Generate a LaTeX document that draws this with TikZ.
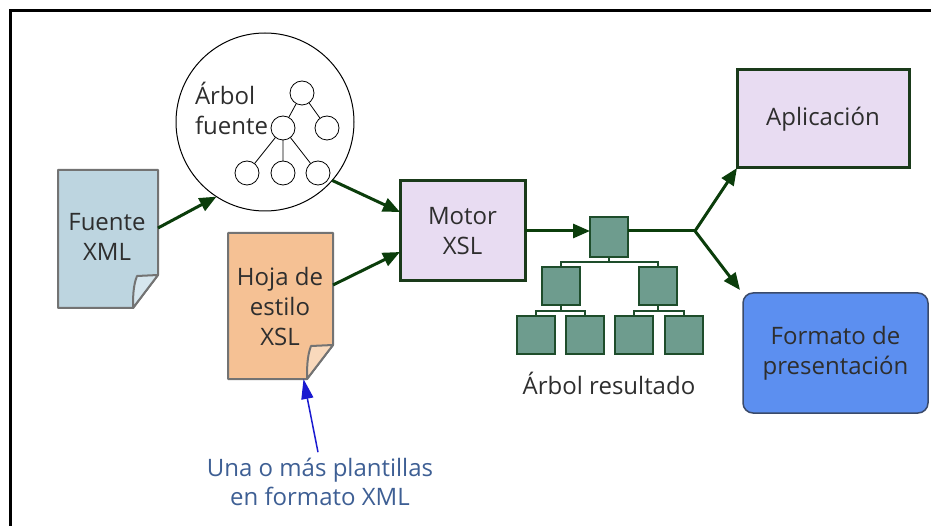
\documentclass[tikz,border=0pt]{standalone}
\usepackage{fontspec}
\setmainfont{Open Sans}
\usetikzlibrary{arrows.meta}
\definecolor{arrowgreen}{HTML}{0B3D0B}
\definecolor{boxgreen}{HTML}{1A3A1A}
\definecolor{lilac}{HTML}{E8DCF2}
\definecolor{leafgreen}{HTML}{6E9C8E}
\definecolor{leafedge}{HTML}{1E4D2B}
\definecolor{xmlblue}{HTML}{BDD5E0}
\definecolor{xmlflap}{HTML}{D6E6EE}
\definecolor{xslpeach}{HTML}{F5C194}
\definecolor{xslflap}{HTML}{F9D9BC}
\definecolor{docedge}{HTML}{737373}
\definecolor{fmtblue}{HTML}{5C8FF0}
\definecolor{fmtedge}{HTML}{3A4A6A}
\definecolor{notetext}{HTML}{3E5F94}
\definecolor{notearrow}{HTML}{1A1AD0}
\definecolor{ink}{HTML}{2E2E2E}
\begin{document}
\begin{tikzpicture}[x=1pt,y=-1pt,inner sep=0pt,outer sep=0pt,
font=\fontsize{24}{30}\selectfont,text=ink,
flow/.style={-{Triangle[length=17pt,width=14pt]},line width=3pt,draw=arrowgreen},
sysblock/.style={draw=boxgreen,fill=lilac,line width=3pt,rectangle,align=center},
docblock/.style={rectangle,align=center},
docline/.style={draw=docedge,line width=2pt,line join=round},
leaf/.style={draw=leafedge,fill=leafgreen,line width=1.5pt,minimum width=38pt,minimum height=38pt},
twig/.style={draw=leafedge,line width=2.5pt},
knot/.style={draw,circle,minimum size=24pt,line width=0.8pt}]
\useasboundingbox (0,0) rectangle (931,526);
\draw[line width=3pt] (10,526) -- (10,11) -- (931,11);
% source tree
\node[draw,circle,minimum size=178pt,line width=1pt] (src) at (265,122) {};
\node[anchor=west,align=left] (srclbl) at (195,108) {Árbol\\fuente};
\node[knot] (t1) at (302,93) {};
\node[knot] (t2) at (283,128) {};
\node[knot] (t3) at (327,128) {};
\node[knot] (t4) at (247,173) {};
\node[knot] (t5) at (283,173) {};
\node[knot] (t6) at (318,173) {};
\draw[line width=0.8pt] (t1) -- (t2) (t1) -- (t3) (t2) -- (t4) (t2) -- (t5) (t2) -- (t6);
% documents
\node[docblock,minimum width=100pt,minimum height=138pt] (xml) at (108,239) {};
\draw[docline,fill=xmlblue] (xml.north west) -- (xml.north east) -- ([yshift=33pt]xml.south east)
  -- ([xshift=-25pt]xml.south east) -- (xml.south west) -- cycle;
\draw[docline,fill=xmlflap] ([yshift=33pt]xml.south east) -- ++(-21,1)
  .. controls +(-4,10) and +(0,-10) .. ([xshift=-25pt]xml.south east) -- cycle;
\node[align=center] (xmllbl) at (107,237) {Fuente\\XML};
\node[docblock,minimum width=105pt,minimum height=146pt] (xsl) at (280.5,306) {};
\draw[docline,fill=xslpeach] (xsl.north west) -- (xsl.north east) -- ([yshift=34pt]xsl.south east)
  -- ([xshift=-26pt]xsl.south east) -- (xsl.south west) -- cycle;
\draw[docline,fill=xslflap] ([yshift=34pt]xsl.south east) -- ++(-22,1)
  .. controls +(-4,10) and +(0,-10) .. ([xshift=-26pt]xsl.south east) -- cycle;
\node[align=center] (xsllbl) at (280,306) {Hoja de\\estilo\\XSL};
% engine
\node[sysblock,minimum width=125pt,minimum height=100pt] (motor) at (462.5,231) {Motor\\XSL};
\draw[flow] (xml.east |- 0,228) -- (src.-123);
\draw[flow] (src.-41) -- ([yshift=19pt]motor.west);
\draw[flow] ([yshift=21pt]xsl.east) -- ([yshift=-21pt]motor.west);
% result tree
\node[leaf,minimum height=40pt] (r0) at (609,237) {};
\node[leaf] (r1) at (561,286) {};
\node[leaf] (r2) at (658,286) {};
\node[leaf] (r3) at (536,335) {};
\node[leaf] (r4) at (585,335) {};
\node[leaf] (r5) at (634,335) {};
\node[leaf] (r6) at (684,335) {};
\draw[twig] (r0.south) -- ++(0,5) coordinate (j0) (j0) -| (r1.north) (j0) -| (r2.north);
\draw[twig] (r1.south) -- ++(0,6) coordinate (j1) (j1) -| (r3.north) (j1) -| (r4.north);
\draw[twig] (r2.south) -- ++(0,6) coordinate (j2) (j2) -| (r5.north) (j2) -| (r6.north);
\node (reslbl) at (609,383) {Árbol resultado};
\draw[flow] (motor.east) -- (motor.east -| r0.west);
% outputs
\coordinate (fork) at (695,231);
\draw[line width=3pt,draw=arrowgreen] (r0.east |- fork) -- (fork);
\node[sysblock,minimum width=172pt,minimum height=98pt] (apl) at (823,119) {Aplicación};
\node[draw=fmtedge,fill=fmtblue,line width=1.5pt,rounded corners=10pt,align=center,
  minimum width=185pt,minimum height=120pt] (fmt) at (835.5,353) {Formato de\\presentación};
\draw[flow] (fork) -- (apl.south west);
\draw[flow] (fork) -- ([shift={(-3pt,3pt)}]fmt.north west);
% note
\node[align=center,text=notetext,font=\fontsize{24}{29}\selectfont] (note) at (320,482)
  {Una o más plantillas\\en formato XML};
\draw[-{Triangle[length=20pt,width=12pt]},line width=1.5pt,draw=notearrow,fill=notearrow]
  ([xshift=-2pt,yshift=6pt]note.north) -- ([xshift=23pt]xsl.south);
\end{tikzpicture}
\end{document}
